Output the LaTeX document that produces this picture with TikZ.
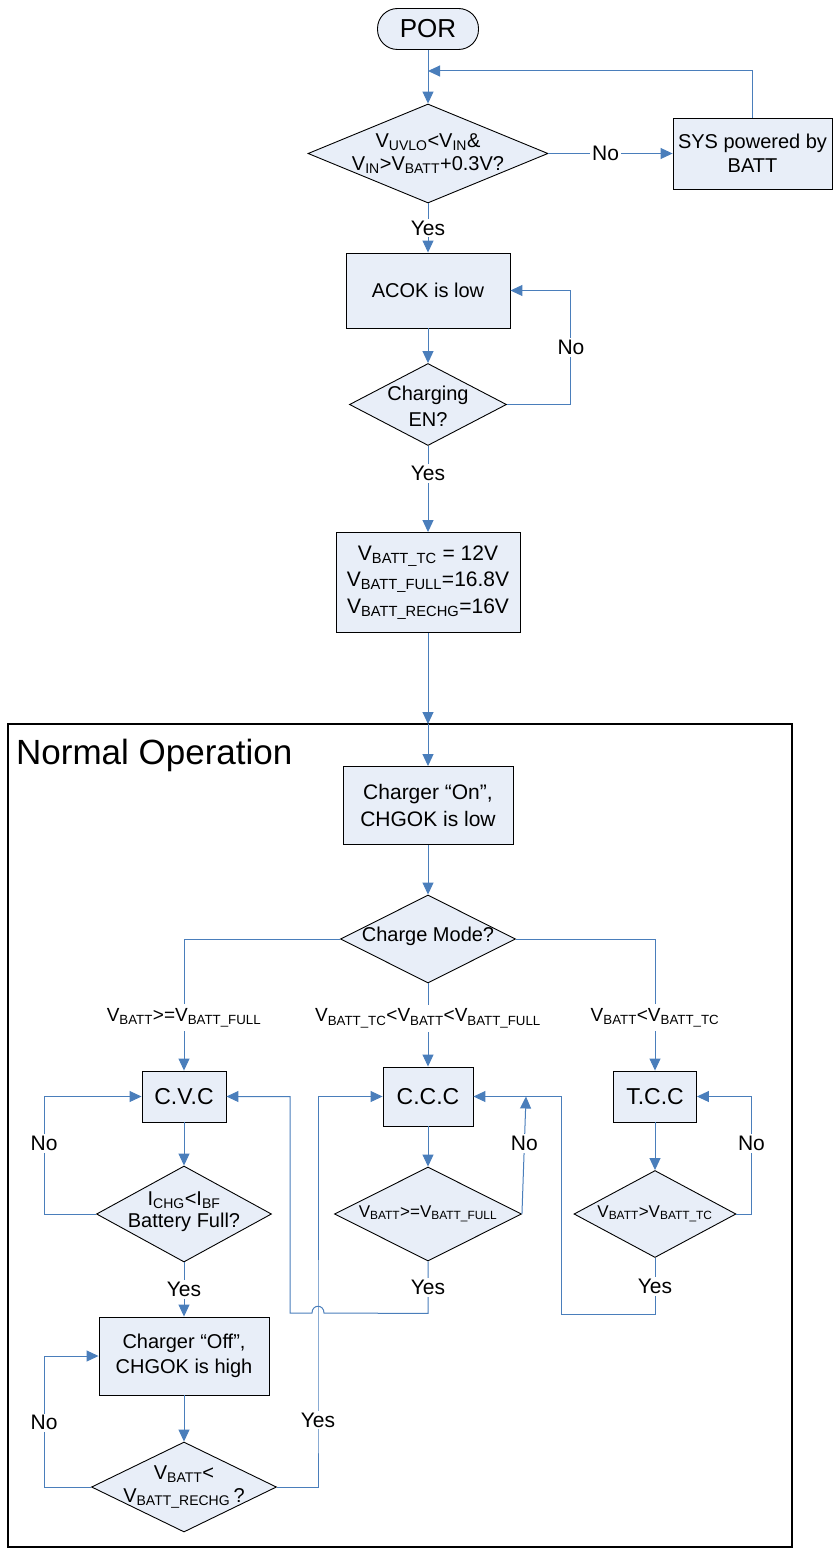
\documentclass[tikz,border=0pt]{standalone}
\usepackage{fontspec}
\setmainfont{Liberation Sans}
\usetikzlibrary{shapes.geometric,arrows.meta}
\definecolor{flowblue}{RGB}{74,126,187}
\definecolor{boxfill}{RGB}{232,238,248}

\begin{document}
\begin{tikzpicture}[x=1pt,y=-1pt,
  proc/.style={draw,fill=boxfill,align=center,inner sep=0pt,line width=0.9pt,font=\fontsize{20}{24}\selectfont},
  decide/.style={draw,fill=boxfill,diamond,inner sep=0pt,line width=0.9pt},
  dtext/.style={align=center,inner sep=0pt,font=\fontsize{20}{23}\selectfont},
  flow/.style={draw=flowblue,line width=1pt,-{Triangle[length=12pt,width=11pt]}},
  tag/.style={fill=white,inner sep=2pt,font=\fontsize{21}{24}\selectfont},
  cond/.style={fill=white,inner sep=4pt,font=\fontsize{19}{22}\selectfont}]

\useasboundingbox (0,0) rectangle (833,1549);

\draw[line width=2.8pt] (8,724) rectangle (792,1547);
\node[anchor=west,inner sep=0pt,font=\fontsize{35}{40}\selectfont] (title) at (16,755) {Normal Operation};

\node[proc,rounded corners=20pt,minimum width=101pt,minimum height=41pt,font=\fontsize{26}{30}\selectfont] (por) at (428,29) {POR};

\node[decide,minimum width=240pt,minimum height=99pt] (d1) at (428,153.5) {};
\node[dtext] (d1t) at (d1) {V\textsubscript{UVLO}<V\textsubscript{IN}\&\\V\textsubscript{IN}>V\textsubscript{BATT}+0.3V?};
\node[proc,minimum width=159pt,minimum height=71pt] (sys) at (752.5,153.5) {SYS powered by\\BATT};

\node[proc,minimum width=164pt,minimum height=75pt] (acok) at (428,290.5) {ACOK is low};
\node[decide,minimum width=157pt,minimum height=82pt] (d2) at (428,404.5) {};
\node[dtext,font=\fontsize{20}{26}\selectfont] (d2t) at (428,406) {Charging\\EN?};

\node[proc,minimum width=184pt,minimum height=100pt,font=\fontsize{21}{26.5}\selectfont] (par) at (428,582.5)
  {V\textsubscript{BATT\_TC} = 12V\\V\textsubscript{BATT\_FULL}=16.8V\\V\textsubscript{BATT\_RECHG}=16V};

\node[proc,minimum width=170pt,minimum height=78pt,font=\fontsize{21}{27}\selectfont] (on) at (428,805.5) {Charger ``On'',\\CHGOK is low};
\node[decide,minimum width=175pt,minimum height=88pt] (d3) at (428,939) {};
\node[dtext] (d3t) at (428,936) {Charge Mode?};

\node[proc,minimum width=84pt,minimum height=51pt,font=\fontsize{23}{26}\selectfont] (cvc) at (184,1096.5) {C.V.C};
\node[proc,minimum width=90pt,minimum height=59pt,font=\fontsize{23}{26}\selectfont] (ccc) at (428,1096.5) {C.C.C};
\node[proc,minimum width=83pt,minimum height=51pt,font=\fontsize{23}{26}\selectfont] (tcc) at (655,1096.5) {T.C.C};

\node[decide,minimum width=175pt,minimum height=96pt] (d4) at (184,1214) {};
\node[dtext,font=\fontsize{20}{22}\selectfont] (d4t) at (184,1212) {I\textsubscript{CHG}<I\textsubscript{BF}\\Battery Full?};
\node[decide,minimum width=187pt,minimum height=94pt] (d5) at (428,1214) {};
\node[dtext,font=\fontsize{17}{20}\selectfont] (d5t) at (d5) {V\textsubscript{BATT}>=V\textsubscript{BATT\_FULL}};
\node[decide,minimum width=162pt,minimum height=87pt] (d6) at (655,1214) {};
\node[dtext,font=\fontsize{17}{20}\selectfont] (d6t) at (d6) {V\textsubscript{BATT}>V\textsubscript{BATT\_TC}};

\node[proc,minimum width=170pt,minimum height=78pt,font=\fontsize{20}{25}\selectfont] (off) at (184,1356) {Charger ``Off'',\\CHGOK is high};
\node[decide,minimum width=185pt,minimum height=90pt] (d7) at (184,1487) {};
\node[dtext] (d7t) at (d7) {V\textsubscript{BATT}<\\V\textsubscript{BATT\_RECHG}\,?};

\coordinate (back) at (428,71);
\coordinate (entry) at (428,724);
\coordinate (cccin) at (561,1096.5);
\coordinate (noup) at (526,1096.5);
\coordinate (ret) at (290,1313);

\draw[flow] (por.south) -- (d1.north);
\draw[flow] (d1.east) -- (sys.west) node[tag,pos=0.46] (no1) {No};
\draw[flow] (sys.north) |- (back);
\draw[flow] (d1.south) -- (acok.north) node[tag,midway] (yes1) {Yes};
\draw[flow] (acok.south) -- (d2.north);
\draw[flow] (d2.east) -- ++(64,0) |- (acok.east) node[tag,pos=0.25] (no2) {No};
\draw[flow] (d2.south) -- (par.north) node[tag,pos=0.32] (yes2) {Yes};
\draw[flow] (par.south) -- (entry);
\draw[flow] (entry) -- (on.north);
\draw[flow] (on.south) -- (d3.north);

\draw[flow] (d3.west) -| (cvc.north) node[cond,pos=0.8] (c1) {V\textsubscript{BATT}>=V\textsubscript{BATT\_FULL}};
\draw[flow] (d3.south) -- (ccc.north) node[cond,pos=0.42] (c2) {V\textsubscript{BATT\_TC}<V\textsubscript{BATT}<V\textsubscript{BATT\_FULL}};
\draw[flow] (d3.east) -| (tcc.north) node[cond,pos=0.8] (c3) {V\textsubscript{BATT}<V\textsubscript{BATT\_TC}};

\draw[flow] (cvc.south) -- (d4.north);
\draw[flow] (ccc.south) -- (d5.north);
\draw[flow] (tcc.south) -- (d6.north);

\draw[flow] (d4.west) -- ++(-52,0) |- (cvc.west) node[tag,pos=0.3] (no3) {No};
\draw[flow] (d4.south) -- (off.north) node[tag,midway] (yes3) {Yes};
\draw[flow] (d5.east) -- (noup) node[tag,pos=0.6] (no4) {No};
\draw[flow] (d6.east) -- ++(15,0) |- (tcc.east) node[tag,pos=0.3] (no5) {No};
\draw[flow] (d6.south) -- ++(0,57) node[tag,midway] (yes5) {Yes} -| (cccin) -- (ccc.east);

\draw[flow] (off.south) -- (d7.north);
\draw[flow] (d7.west) -- ++(-47,0) |- (off.west) node[tag,pos=0.245] (no6) {No};
\draw[flow] (d7.east) -| (318,1420) node[tag] (yes6) {Yes} |- (ccc.west);

\draw[flow] (d5.south) -- ++(0,52) node[tag,midway] (yes4) {Yes} -- (324,1313)
  .. controls (324,1304) and (312,1304) .. (312,1313) -- (ret) |- (cvc.east);

\end{tikzpicture}
\end{document}
